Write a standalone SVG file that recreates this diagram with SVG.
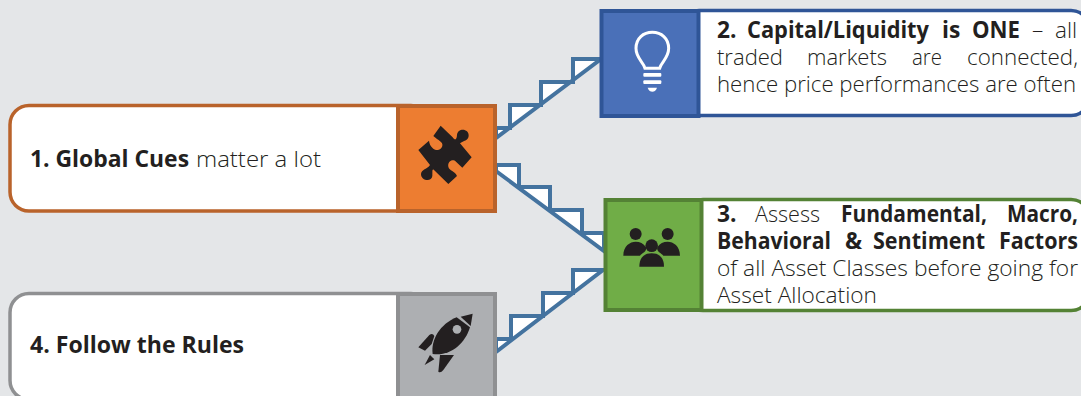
<svg xmlns="http://www.w3.org/2000/svg" width="1081" height="396" viewBox="0 0 1081 396">
<style>
text{font-family:"Open Sans","Noto Sans","Liberation Sans",sans-serif;font-size:22.500px;font-weight:300;fill:#231f20}
.b{font-weight:700;font-size:22.800px}
.card{fill:#fff;stroke-width:3.5}
.sq{stroke-width:4}
.dark{fill:#231f20}
.stair{fill:#fff;stroke:#44739f;stroke-width:4;stroke-linejoin:miter}
</style>
<rect width="1081" height="396" fill="#e4e6e8"/>
<g id="connectors">
<path class="stair" d="M496,128 H510 V105 H541 V82 H573 V59 H601 L496,138 Z"/>
<path class="stair" d="M496,165 H519 V187 H550 V210 H582 V233 H604 V251 L496,171 Z"/>
<path class="stair" d="M496,339 H511 V316 H543 V293 H573 V270 H603 L496,352 Z"/>
</g>
<g id="node-1">
<rect class="card" x="10" y="105.500" width="420" height="105.500" rx="19" stroke="#b9632b"/>
<rect class="sq" x="398" y="106" width="97" height="105" fill="#ed7d31" stroke="#b9632b"/>
<path class="dark" transform="translate(390,50) scale(.3333)" d="M85,300 L117,272 C120,300 150,310 157,288 C160,275 145,272 130,258 L152,227 L188,262 C195,272 200,270 201,255 C203,232 238,235 236,258 C235,272 220,272 210,280 L245,322 L217,353 L198,335 C188,325 172,335 175,350 C178,363 195,362 201,378 L175,402 L132,360 C125,355 128,368 127,378 C125,398 92,392 93,372 C94,358 112,358 120,345 Z"/>
<text x="30" y="167"><tspan class="b" textLength="159" lengthAdjust="spacingAndGlyphs">1. Global Cues</tspan> <tspan x="196" textLength="125" lengthAdjust="spacingAndGlyphs">matter a lot</tspan></text>
</g>
<g id="node-2">
<rect class="card" x="680" y="10.500" width="410" height="105" rx="19" stroke="#2f5597"/>
<rect class="sq" x="601.500" y="11" width="97" height="105" fill="#4a70b8" stroke="#2f5597"/>
<g transform="translate(590,0) scale(.3333)" fill="#fff">
<path d="M165,205 C160,185 138,175 138,145 C138,115 160,97 187,97 C214,97 236,115 236,145 C236,175 214,185 209,205 Z" fill="none" stroke="#fff" stroke-width="9"/>
<rect x="160" y="219" width="54" height="11" rx="3"/>
<rect x="160" y="241" width="54" height="11" rx="3"/>
<path d="M173,263 H201 C198,272 192,275 187,275 C182,275 176,272 173,263 Z"/>
</g>
<text y="38"><tspan class="b" x="717">2.</tspan> <tspan class="b" x="747" textLength="182" lengthAdjust="spacingAndGlyphs">Capital/Liquidity</tspan> <tspan class="b" x="942">is</tspan> <tspan class="b" x="972" textLength="48" lengthAdjust="spacingAndGlyphs">ONE</tspan> <tspan x="1032">–</tspan> <tspan x="1055">all</tspan></text>
<text y="65"><tspan x="717" textLength="66" lengthAdjust="spacingAndGlyphs">traded</tspan> <tspan x="807" textLength="80" lengthAdjust="spacingAndGlyphs">markets</tspan> <tspan x="912" textLength="30" lengthAdjust="spacingAndGlyphs">are</tspan> <tspan x="967" textLength="111" lengthAdjust="spacingAndGlyphs">connected,</tspan></text>
<text x="717" y="92" textLength="359" lengthAdjust="spacingAndGlyphs">hence price performances are often</text>
</g>
<g id="node-3">
<rect class="card" x="684" y="199.500" width="406" height="111" rx="19" stroke="#548235"/>
<rect class="sq" x="605.500" y="200" width="96" height="110" fill="#70ad47" stroke="#548235"/>
<g transform="translate(590,190) scale(.3333)" class="dark">
<circle cx="137" cy="132" r="18"/><circle cx="233" cy="132" r="18"/><circle cx="185" cy="167" r="19"/>
<path d="M100,197 C100,168 120,155 137,155 C150,155 160,160 168,172 C172,185 155,190 150,197 Z"/>
<path d="M270,197 C270,168 250,155 233,155 C220,155 210,160 202,172 C198,185 215,190 220,197 Z"/>
<path d="M148,230 C148,200 165,190 185,190 C205,190 222,200 222,230 Z"/>
</g>
<text y="222"><tspan class="b" x="717">3.</tspan> <tspan x="755" textLength="65" lengthAdjust="spacingAndGlyphs">Assess</tspan> <tspan class="b" x="841" textLength="146" lengthAdjust="spacingAndGlyphs">Fundamental,</tspan> <tspan class="b" x="1007" textLength="71" lengthAdjust="spacingAndGlyphs">Macro,</tspan></text>
<text y="249"><tspan class="b" x="717" textLength="114" lengthAdjust="spacingAndGlyphs">Behavioral</tspan> <tspan class="b" x="845">&amp;</tspan> <tspan class="b" x="873" textLength="112" lengthAdjust="spacingAndGlyphs">Sentiment</tspan> <tspan class="b" x="999" textLength="79" lengthAdjust="spacingAndGlyphs">Factors</tspan></text>
<text x="717" y="276" textLength="361" lengthAdjust="spacingAndGlyphs">of all Asset Classes before going for</text>
<text x="717" y="303" textLength="160" lengthAdjust="spacingAndGlyphs">Asset Allocation</text>
</g>
<g id="node-4">
<rect class="card" x="10" y="293.500" width="420" height="106" rx="19" stroke="#8f9092"/>
<rect class="sq" x="398" y="294" width="97" height="106" fill="#adafb2" stroke="#8f9092"/>
<g transform="translate(390,220) scale(.3333)">
<path class="dark" d="M128,402 C122,360 150,312 200,292 L240,322 C225,372 180,410 128,402 Z"/>
<path class="dark" d="M212,290 L248,281 L242,318 Z"/>
<circle cx="201" cy="328" r="13" fill="#adafb2"/>
<path class="dark" d="M85,382 L118,345 Q128,338 133,348 L125,372 L105,392 Z"/>
<path class="dark" d="M104,435 L120,405 L133,418 Z"/>
<path class="dark" d="M145,455 L150,405 L192,405 L160,450 Q152,460 145,455 Z"/>
</g>
<text class="b" x="30" y="353" textLength="214" lengthAdjust="spacingAndGlyphs">4. Follow the Rules</text>
</g>
</svg>
